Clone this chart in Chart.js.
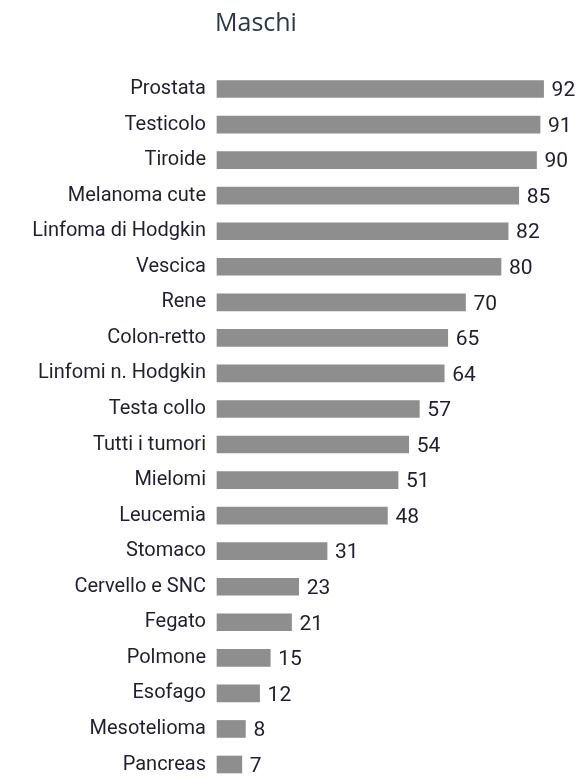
<!DOCTYPE html>
<html>
<head>
<meta charset="utf-8">
<script src="https://cdn.jsdelivr.net/npm/chart.js@4"></script>
<style>
  html, body { margin: 0; padding: 0; background: #fff; }
  #wrap { width: 576px; height: 778px; }
</style>
</head>
<body>
<div id="wrap"><canvas id="myChart" width="576" height="778"></canvas></div>
<script>
const titleText = 'Maschi';
const categories = ['Prostata', 'Testicolo', 'Tiroide', 'Melanoma cute', 'Linfoma di Hodgkin',
    'Vescica', 'Rene', 'Colon-retto', 'Linfomi n. Hodgkin', 'Testa collo', 'Tutti i tumori',
    'Mielomi', 'Leucemia', 'Stomaco', 'Cervello e SNC', 'Fegato', 'Polmone', 'Esofago',
    'Mesotelioma', 'Pancreas'];
const survival = [92, 91, 90, 85, 82, 80, 70, 65, 64, 57, 54, 51, 48, 31, 23, 21, 15, 12, 8, 7];

// draws the numbers at the end of the bars and the title above the bars
const valueLabels = {
    id: 'valueLabels',
    afterDatasetsDraw(chart) {
        const ctx = chart.ctx;
        const meta = chart.getDatasetMeta(0);
        ctx.save();
        ctx.fillStyle = '#1f1f2e';
        ctx.font = '21px Roboto';
        ctx.textAlign = 'left';
        ctx.textBaseline = 'middle';
        meta.data.forEach(function (bar, i) {
            ctx.fillText(String(survival[i]), bar.x + 8, bar.y + 2);
        });
        ctx.fillStyle = '#2b3847';
        ctx.font = '25px "Open Sans"';
        ctx.textBaseline = 'alphabetic';
        ctx.fillText(titleText, chart.chartArea.left - 2, 31);
        ctx.restore();
    }
};

function myLoadFunction() {
    const ctx = document.getElementById('myChart').getContext('2d');
    new Chart(ctx, {
        type: 'bar',
        data: {
            labels: categories,
            datasets: [{
                data: survival,
                backgroundColor: '#8e8e8e',
                borderWidth: 0,
                barThickness: 17,
                clip: false
            }]
        },
        options: {
            indexAxis: 'y',
            responsive: false,
            animation: false,
            layout: { padding: { top: 89, bottom: 13.5, right: 4, left: 0 } },
            plugins: {
                legend: { display: false },
                tooltip: { enabled: false }
            },
            scales: {
                x: { display: false, min: 0, max: 100 },
                y: {
                    offset: false,
                    grid: { display: false, tickLength: 11 },
                    border: { display: false },
                    ticks: {
                        padding: 0,
                        color: '#1f1f2e',
                        font: { family: 'Roboto', size: 20 }
                    },
                    afterFit(scale) { scale.width = 217; }
                }
            }
        },
        plugins: [valueLabels]
    });
}

document.addEventListener('DOMContentLoaded', myLoadFunction);
</script>
</body>
</html>
